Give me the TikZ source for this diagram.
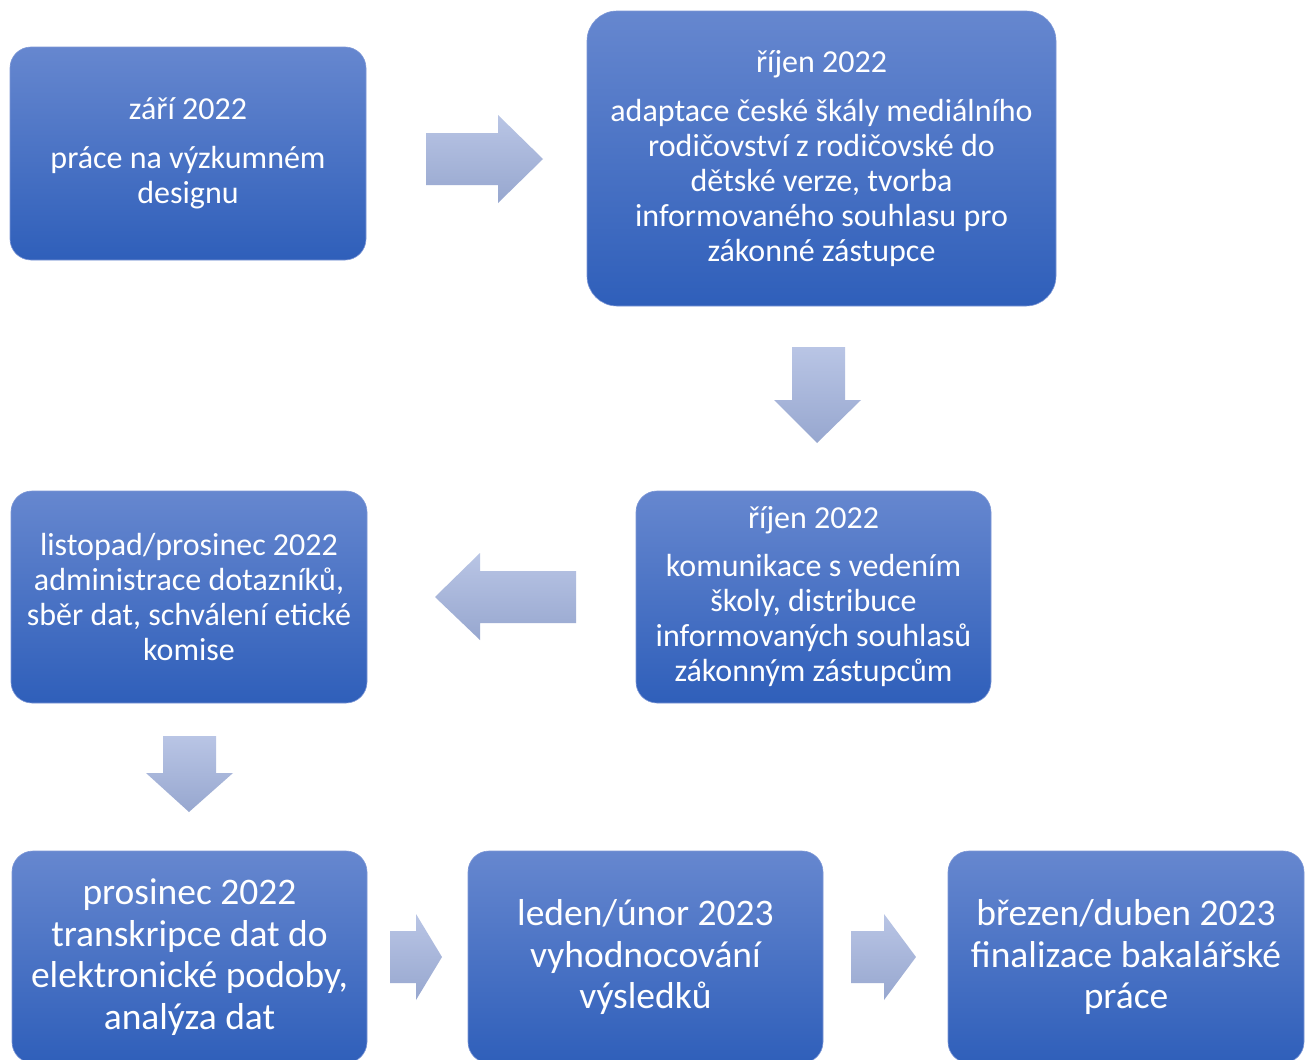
\documentclass[tikz,border=0pt]{standalone}
\usepackage{fontspec}
\setmainfont{Carlito}
\begin{document}
\begin{tikzpicture}[x=1pt,y=-1pt,
  box/.style={rectangle, rounded corners=21pt, top color=boxtop, bottom color=boxbot,
    draw=boxedge, line width=0.6pt, inner sep=0pt, align=center, text=white,
    font=\fontsize{32}{35}\selectfont},
  bigbox/.style={box, font=\fontsize{37.5}{41.5}\selectfont},
  barrow/.style={top color=arrtop, bottom color=arrbot, draw=none}
]
\definecolor{boxtop}{HTML}{6687CF}
\definecolor{boxbot}{HTML}{2F5FBA}
\definecolor{boxedge}{HTML}{7D97D6}
\definecolor{arrtop}{HTML}{B9C5E5}
\definecolor{arrbot}{HTML}{97A7CF}
\clip (0,0) rectangle (1310,1060);
\useasboundingbox (0,0) rectangle (1310,1060);
\fill[white] (0,0) rectangle (1310,1060);

% boxes
\node[box, minimum width=356pt, minimum height=213pt] (b1) at (188,153.5)
  {září 2022\\[14pt]práce na výzkumném\\designu};
\node[box, rounded corners=30pt, minimum width=469pt, minimum height=295pt] (b2) at (821.5,158.5)
  {říjen 2022\\[14pt]adaptace české škály mediálního\\rodičovství z rodičovské do\\dětské verze, tvorba\\informovaného souhlasu pro\\zákonné zástupce};
\node[box, minimum width=355pt, minimum height=212pt] (b3) at (813.5,597)
  {říjen 2022\\[13pt]komunikace s vedením\\školy, distribuce\\informovaných souhlasů\\zákonným zástupcům};
\node[box, minimum width=356pt, minimum height=212pt] (b4) at (189,597)
  {listopad/prosinec 2022\\administrace dotazníků,\\sběr dat, schválení etické\\komise};
\node[bigbox, minimum width=355pt, minimum height=212pt] (b5) at (189.5,957)
  {prosinec 2022\\transkripce dat do\\elektronické podoby,\\analýza dat};
\node[bigbox, minimum width=355pt, minimum height=212pt] (b6) at (645.5,957)
  {leden/únor 2023\\vyhodnocování\\výsledků};
\node[bigbox, minimum width=356pt, minimum height=212pt] (b7) at (1126,957)
  {březen/duben 2023\\finalizace bakalářské\\práce};

% block arrows
\path[barrow] (426,133) -- (498,133) -- (498,115) -- (543,159) -- (498,203) -- (498,185) -- (426,185) -- cycle;
\path[barrow] (792,347) -- (845,347) -- (845,400) -- (861,400) -- (817,443) -- (774,400) -- (792,400) -- cycle;
\path[barrow] (576,571) -- (480,571) -- (480,553) -- (435,597) -- (480,640) -- (480,623) -- (576,623) -- cycle;
\path[barrow] (163,736) -- (216,736) -- (216,773) -- (233,773) -- (189,812) -- (146,773) -- (163,773) -- cycle;
\path[barrow] (390,931) -- (416,931) -- (416,914) -- (442,957) -- (416,1000) -- (416,983) -- (390,983) -- cycle;
\path[barrow] (851,931) -- (884,931) -- (884,914) -- (916,957) -- (884,1000) -- (884,983) -- (851,983) -- cycle;
\end{tikzpicture}
\end{document}
